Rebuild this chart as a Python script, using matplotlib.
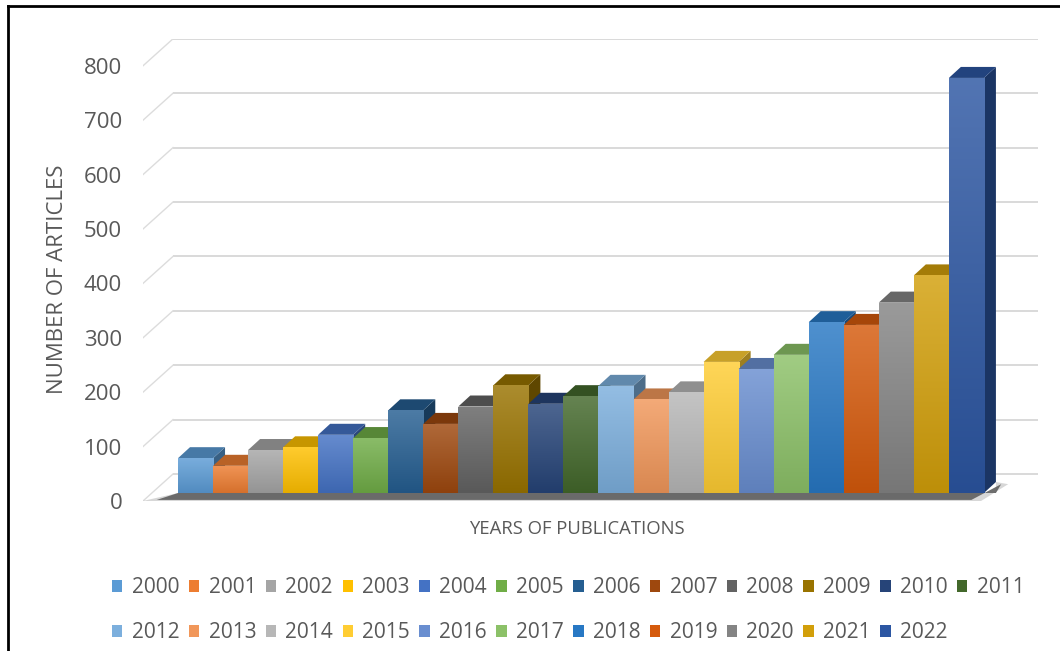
import numpy as np
import matplotlib.pyplot as plt
import matplotlib.transforms as mtransforms
from matplotlib.patches import Polygon, Rectangle, Patch
from matplotlib.colors import to_rgb, LinearSegmentedColormap
from matplotlib.lines import Line2D

# ------------------ Data ------------------ #
years = [str(y) for y in range(2000, 2023)]
articles = [64, 50, 79, 84, 107, 101, 152, 127, 159, 198, 164, 178,
            197, 172, 185, 241, 228, 254, 314, 309, 350, 400, 763]
colors = ['#5B9BD5', '#ED7D31', '#A5A5A5', '#FFC000', '#4472C4', '#70AD47',
          '#255E91', '#9E480E', '#636363', '#997300', '#264478', '#43682B',
          '#7CAFDD', '#F1975A', '#B7B7B7', '#FFCD33', '#698ED0', '#8CC168',
          '#2878C4', '#D55A0C', '#848484', '#D29F0A', '#2C56A2']
y_ticks = [0, 100, 200, 300, 400, 500, 600, 700, 800]

FONT = ['Open Sans', 'DejaVu Sans']
GREY = '#595959'
plt.rcParams['font.family'] = FONT

# ------------------ Layout (pixels) ------------------ #
W, H, DPI = 1060, 651, 100
PX_CAT = 35.04      # px per category
PX_VAL = 0.544      # px per article
AX_L, AX_R, FLOOR_Y = 143, 1040, 501
YMAX = 850
XMIN = -0.5 - (169 - AX_L) / PX_CAT
XMAX = XMIN + (AX_R - AX_L) / PX_CAT

fig = plt.figure(figsize=(W / DPI, H / DPI), dpi=DPI)
ax = fig.add_axes([AX_L / W, (H - FLOOR_Y) / H, (AX_R - AX_L) / W, YMAX * PX_VAL / H])

def shift(dx_px, dy_px):
    return ax.transData + mtransforms.ScaledTranslation(dx_px / DPI, dy_px / DPI, fig.dpi_scale_trans)

back_tr = shift(30, 27)     # back wall
bar_tr = shift(9, 8)        # front face of the bars

# ------------------ Walls / grid ------------------ #
grid_end = XMIN + (1008 - AX_L) / PX_CAT
ax.hlines(y_ticks, XMIN, grid_end, colors='#D9D9D9', lw=1.4, transform=back_tr, zorder=1)
for v in y_ticks:
    ax.plot([XMIN, XMIN + 30 / PX_CAT], [v, v + 27 / PX_VAL], color='#DCDCDC', lw=1.0, zorder=1)

# ------------------ Floor shadow ------------------ #
n = len(articles)
bx, by = 9 / PX_CAT, 8 / PX_VAL
dx, dy = 12 / PX_CAT, 11 / PX_VAL
right = n - 0.5
soft = Polygon([(-0.5 - 0.75, 0), (right + 0.15, -1), (right + bx + dx + 0.35, by + dy - 4),
                (right + bx + dx, by + dy), (right + bx + dx, by), (-0.5 + bx, by)],
               closed=True, facecolor='#A8A8A8', edgecolor='none', alpha=0.45, zorder=2)
core = Polygon([(-0.5 - 0.35, 2), (right - 0.1, 2), (right + bx + dx + 0.15, by + dy - 4),
                (right + bx + dx, by), (-0.5 + bx, by)],
               closed=True, facecolor='#5E5E5E', edgecolor='none', alpha=0.9, zorder=2)
ax.add_patch(soft)
ax.add_patch(core)

# ------------------ 3D bars ------------------ #
grad = np.linspace(0, 1, 64).reshape(-1, 1)
for i, (v, c) in enumerate(zip(articles, colors)):
    base = np.array(to_rgb(c))
    z = 3 + i * 0.01
    side = Polygon([(i + 0.5, 0), (i + 0.5 + dx, dy), (i + 0.5 + dx, v + dy), (i + 0.5, v)],
                   closed=True, facecolor=base * 0.62, edgecolor='none', transform=bar_tr, zorder=z)
    top = Polygon([(i - 0.5, v), (i + 0.5, v), (i + 0.5 + dx, v + dy), (i - 0.5 + dx, v + dy)],
                  closed=True, facecolor=base * 0.78, edgecolor='none', transform=bar_tr, zorder=z)
    ax.add_patch(side)
    ax.add_patch(top)
    front = Rectangle((i - 0.5, 0), 1, v, facecolor='none', edgecolor='none', transform=bar_tr, zorder=z)
    ax.add_patch(front)
    cmap = LinearSegmentedColormap.from_list('g', [0.82 * base + 0.18, base * 0.9])
    im = ax.imshow(grad, cmap=cmap, extent=(i - 0.5, i + 0.5, 0, v), aspect='auto',
                   interpolation='bilinear', transform=bar_tr, zorder=z + 0.001)
    im.set_clip_path(front)

ax.set_xlim(XMIN, XMAX)
ax.set_ylim(0, YMAX)
ax.set_yticks(y_ticks)
ax.set_xticks([])
ax.tick_params(axis='y', length=0, pad=15, labelsize=16, labelcolor=GREY)
for s in ax.spines.values():
    s.set_visible(False)
ax.patch.set_visible(False)

# ------------------ Titles ------------------ #
fig.text(58 / W, 1 - 279 / H, 'NUMBER OF ARTICLES', rotation=90, ha='center', va='center',
         fontsize=16, color=GREY)
fig.text(577 / W, 1 - 529 / H, 'YEARS OF PUBLICATIONS', ha='center', va='center',
         fontsize=13.3, color=GREY)

# ------------------ Legend (row-major order over 12 columns) ------------------ #
handles = [Patch(facecolor=c, edgecolor='none') for c in colors]
order = []
for j in range(12):
    order.append(j)
    if j + 12 < n:
        order.append(j + 12)
leg = fig.legend([handles[k] for k in order], [years[k] for k in order], ncol=12,
                 loc='upper left', bbox_to_anchor=(112 / W, 1 - 577 / H), frameon=False,
                 fontsize=15, labelcolor=GREY,
                 handlelength=0.5, handleheight=0.5, handletextpad=0.45,
                 columnspacing=0.45, labelspacing=1.17, borderpad=0, borderaxespad=0)

# ------------------ Frame ------------------ #
fig.add_artist(Line2D([8 / W, 8 / W], [0, 1 - 6 / H], color='black', lw=2, transform=fig.transFigure))
fig.add_artist(Line2D([8 / W, 1], [1 - 6 / H, 1 - 6 / H], color='black', lw=2, transform=fig.transFigure))

fig.savefig('out.png', dpi=DPI)
